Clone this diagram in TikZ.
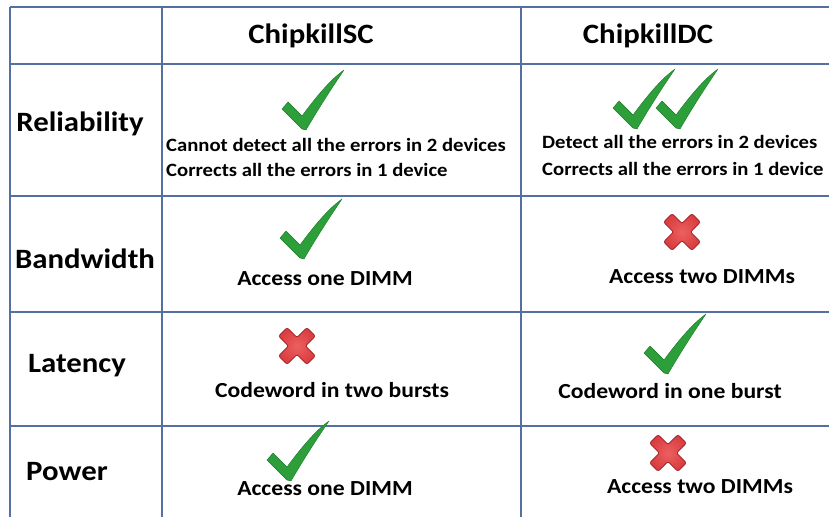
\documentclass[tikz,border=0pt]{standalone}
\usepackage{fontspec}
\setmainfont{Carlito}[FakeStretch=1.1]
\definecolor{gridblue}{RGB}{82,112,160}
\definecolor{tickgreen}{RGB}{44,158,58}
\definecolor{tickdark}{RGB}{30,120,40}
\definecolor{crossred}{RGB}{218,62,64}
\definecolor{crosslight}{RGB}{236,96,98}
\definecolor{crossdark}{RGB}{165,38,44}
\begin{document}
\begin{tikzpicture}[x=1pt,y=-1pt,
  grid/.style={draw=gridblue,line width=2pt},
  head/.style={font=\bfseries\fontsize{28}{30}\selectfont,anchor=base,inner sep=0pt},
  rowlab/.style={font=\bfseries\fontsize{28}{30}\selectfont,anchor=base,inner sep=0pt},
  note/.style={font=\bfseries\fontsize{21.5}{24}\selectfont,anchor=base,inner sep=0pt},
  detail/.style={font=\bfseries\fontsize{18.8}{22}\selectfont,anchor=base west,inner sep=0pt},
  tick/.pic={
    \fill[tickgreen,draw=tickdark,line width=0.4pt,line join=round]
      (0,0) -- (-20,-20) -- (-14,-27) -- (0,-13)
      .. controls (14,-32) and (28,-49) .. (42,-59)
      .. controls (31,-43) and (15,-18) .. (4,1) -- cycle;
  },
  cross/.pic={
    \shade[inner color=crosslight,outer color=crossred,draw=crossdark,
           line width=0.8pt,rounded corners=2pt,rotate=45]
      (20,6) -- (6,6) -- (6,20) -- (-6,20) -- (-6,6) -- (-20,6)
      -- (-20,-6) -- (-6,-6) -- (-6,-20) -- (6,-20) -- (6,-6) -- (20,-6) -- cycle;
  }]
\useasboundingbox (0,0) rectangle (829,517);
\fill[white] (0,0) rectangle (829,517);

% table rules
\draw[grid] (10,7) -- (829,7);
\draw[grid] (10,64) -- (829,64);
\draw[grid] (10,196) -- (829,196);
\draw[grid] (10,312) -- (829,312);
\draw[grid] (10,426) -- (829,426);
\draw[grid] (10,7) -- (10,517);
\draw[grid] (162,7) -- (162,517);
\draw[grid] (521,7) -- (521,517);

% column headings
\node[head] (hsc) at (311,43) {ChipkillSC};
\node[head] (hdc) at (648,43) {ChipkillDC};

% row headings
\node[rowlab] (rrel) at (80,131) {Reliability};
\node[rowlab] (rbw) at (85,268) {Bandwidth};
\node[rowlab] (rlat) at (77,372) {Latency};
\node[rowlab] (rpow) at (67,480) {Power};

% reliability
\pic (relsc) at (302,129) {tick};
\node[detail] (relsc1) at (166,151) {Cannot detect all the errors in 2 devices};
\node[detail] (relsc2) at (166,176) {Corrects all the errors in 1 device};
\pic (reldca) at (633,128) {tick};
\pic (reldcb) at (676,128) {tick};
\node[detail] (reldc1) at (542,148) {Detect all the errors in 2 devices};
\node[detail] (reldc2) at (542,175) {Corrects all the errors in 1 device};

% bandwidth
\pic (bwsc) at (300,258) {tick};
\node[note] (bwsct) at (325,285) {Access one DIMM};
\pic (bwdc) at (682,232) {cross};
\node[note] (bwdct) at (702,283) {Access two DIMMs};

% latency
\pic (latsc) at (297,346) {cross};
\node[note] (latsct) at (332,397) {Codeword in two bursts};
\pic (latdc) at (664,373) {tick};
\node[note] (latdct) at (670,398) {Codeword in one burst};

% power
\pic (powsc) at (287,480) {tick};
\node[note] (powsct) at (325,495) {Access one DIMM};
\pic (powdc) at (668,453) {cross};
\node[note] (powdct) at (700,493) {Access two DIMMs};
\end{tikzpicture}
\end{document}
